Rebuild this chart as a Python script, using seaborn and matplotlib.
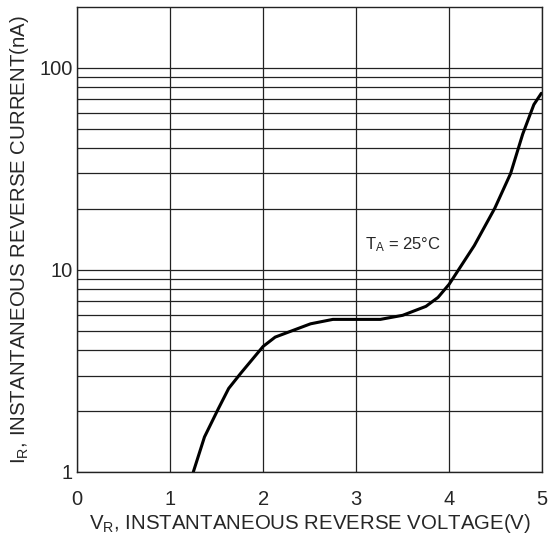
import numpy as np
import pandas as pd
import matplotlib
matplotlib.use('Agg')
import matplotlib.pyplot as plt
import seaborn as sns
from matplotlib.ticker import FixedLocator, NullFormatter

# reverse voltage (V) vs reverse current (nA)
vr = [1.25, 1.37, 1.52, 1.63, 1.76, 2.0, 2.13, 2.51, 2.75, 3.0, 3.26, 3.5, 3.75, 3.88, 4.0,
      4.27, 4.49, 4.66, 4.79, 4.91, 4.99]
ir = [1.0, 1.49, 2.06, 2.59, 3.08, 4.18, 4.65, 5.41, 5.69, 5.69, 5.69, 5.96, 6.6, 7.31, 8.5,
      13.2, 20.2, 30.0, 47.0, 65.8, 74.8]

x_ticks = [0, 1, 2, 3, 4, 5]
y_ticks = [1, 10, 100]
y_ticklabels = ['1', '10', '100']

data = pd.DataFrame({'VR': vr, 'IR': ir})

sns.set_style('white')
plt.rcParams['font.family'] = ['Liberation Sans', 'DejaVu Sans']
plt.rcParams['mathtext.fontset'] = 'custom'
plt.rcParams['mathtext.rm'] = 'Liberation Sans'
plt.rcParams['mathtext.it'] = 'Liberation Sans'

fig = plt.figure(figsize=(5.48, 5.40), dpi=100)
ax = fig.add_axes([0.1405, 0.126, 0.849, 0.861])

sns.lineplot(x='VR', y='IR', data=data, ax=ax, color='black', linewidth=2.2, sort=False)

ax.set_yscale('log')
ax.set_xlim(0, 5)
ax.set_ylim(1, 200)

ax.xaxis.set_major_locator(FixedLocator(x_ticks))
ax.yaxis.set_major_locator(FixedLocator(y_ticks))
ax.set_yticklabels(y_ticklabels)
minor = [m * d for d in [1, 10] for m in range(2, 10)]
ax.yaxis.set_minor_locator(FixedLocator(minor))
ax.yaxis.set_minor_formatter(NullFormatter())

ax.grid(True, which='major', axis='x', color='#222222', linewidth=0.9)
ax.grid(True, which='both', axis='y', color='#222222', linewidth=0.9)
ax.tick_params(axis='both', which='both', length=0, labelsize=14.5)
ax.tick_params(axis='x', pad=13)
ax.tick_params(axis='y', pad=3)

for s in ax.spines.values():
    s.set_color('#222222')
    s.set_linewidth(1.0)

ax.set_xlabel(r'V$_\mathregular{R}$, INSTANTANEOUS REVERSE VOLTAGE(V)', fontsize=14.7, labelpad=2)
ax.set_ylabel(r'I$_\mathregular{R}$, INSTANTANEOUS REVERSE CURRENT(nA)', fontsize=14.7, labelpad=6)

ax.text(3.5, 13.4, r'T$_\mathregular{A}$ = 25°C', fontsize=12, ha='center', va='center')

fig.savefig('out.png', dpi=100)
